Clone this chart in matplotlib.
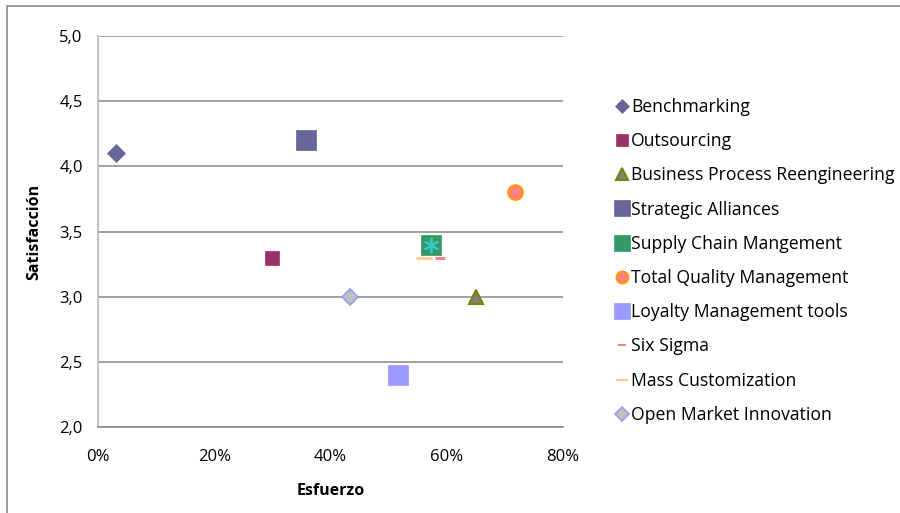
import matplotlib.pyplot as plt
from matplotlib.lines import Line2D
from matplotlib.patches import Rectangle
from matplotlib.ticker import FuncFormatter

plt.rcParams['font.family'] = ['Open Sans', 'DejaVu Sans']

# data (esfuerzo as fraction, satisfaccion 1-5)
names = ['Benchmarking', 'Outsourcing', 'Business Process Reengineering',
         'Strategic Alliances', 'Supply Chain Mangement', 'Total Quality Management',
         'Loyalty Management tools', 'Six Sigma', 'Mass Customization',
         'Open Market Innovation']
esfuerzo = [0.031, 0.30, 0.65, 0.358, 0.573, 0.717, 0.516, 0.588, 0.561, 0.434]
satisfaccion = [4.1, 3.3, 3.0, 4.2, 3.4, 3.8, 2.4, 3.3, 3.3, 3.0]

# marker, size, face, edge, edge width
styles = [
    ('D', 9, '#666699', '#666699', 0.5),
    ('s', 10.5, '#993366', '#993366', 0.5),
    ('^', 10, '#808080', '#808000', 1.5),
    ('s', 14.5, '#666699', '#666699', 0.5),
    ('s', 14.5, '#339966', '#339966', 0.5),
    ('o', 10.5, '#FF8080', '#FF9900', 1.5),
    ('s', 14.5, '#9999FF', '#9999FF', 0.5),
    ('_', 6.5, '#FF8080', '#FF8080', 2.2),
    ('_', 11.5, '#FFCC99', '#FFCC99', 2.2),
    ('D', 8.5, '#C0C0C0', '#9999FF', 1.2),
]
legend_sizes = [7, 8, 8, 11, 11, 8.5, 11, 6, 8, 7.5]

fig = plt.figure(figsize=(9, 5.13), dpi=100)
ax = fig.add_axes([0.1089, 0.1676, 0.5167, 0.7622])

fig.patches.append(Rectangle((7 / 900, -0.1), 2, 1.1 - 6 / 513, transform=fig.transFigure,
                             fill=False, edgecolor='#8c8c8c', linewidth=1.2, zorder=0))

for i in range(len(names)):
    m, ms, fc, ec, ew = styles[i]
    ax.plot(esfuerzo[i], satisfaccion[i], linestyle='none', marker=m, markersize=ms,
            markerfacecolor=fc, markeredgecolor=ec, markeredgewidth=ew, zorder=3)
    if i == 4:
        # asterisk on top of the supply chain square
        ax.plot(esfuerzo[i], satisfaccion[i], linestyle='none', marker=(6, 2, 0),
                markersize=11, markeredgecolor='#33CCCC', markeredgewidth=1.3, zorder=4)

ax.set_xlim(0, 0.8)
ax.set_ylim(2.0, 5.0)
ax.set_xticks([0, 0.2, 0.4, 0.6, 0.8])
ax.set_yticks([2.0, 2.5, 3.0, 3.5, 4.0, 4.5, 5.0])
ax.xaxis.set_major_formatter(FuncFormatter(lambda v, p: '%d%%' % round(v * 100)))
ax.yaxis.set_major_formatter(FuncFormatter(lambda v, p: ('%.1f' % v).replace('.', ',')))
ax.tick_params(length=0, labelsize=12, colors='black')
ax.tick_params(axis='x', pad=16)
ax.tick_params(axis='y', pad=11)
ax.grid(axis='y', color='#868686', linewidth=1.1)
ax.set_axisbelow(True)
for s in ['top', 'right']:
    ax.spines[s].set_visible(False)
ax.spines['left'].set_color('#bfbfbf')
ax.spines['left'].set_linewidth(1.3)
ax.spines['bottom'].set_color('#868686')
ax.spines['bottom'].set_linewidth(1.1)

ax.set_xlabel('Esfuerzo', fontsize=11.5, fontweight='bold', labelpad=13)
ax.set_ylabel('Satisfacción', fontsize=11.5, fontweight='bold', labelpad=12)

handles = []
for i in range(len(names)):
    m, ms, fc, ec, ew = styles[i]
    handles.append(Line2D([], [], linestyle='none', marker=m, markersize=legend_sizes[i],
                          markerfacecolor=fc, markeredgecolor=ec,
                          markeredgewidth=min(ew, 1.5)))
leg = fig.legend(handles, names, loc='upper left', bbox_to_anchor=(0.677, 0.823),
                 frameon=False, fontsize=12.7, handlelength=0.6, handletextpad=0.25,
                 labelspacing=0.92, borderaxespad=0)

fig.savefig('out.png', dpi=100)
